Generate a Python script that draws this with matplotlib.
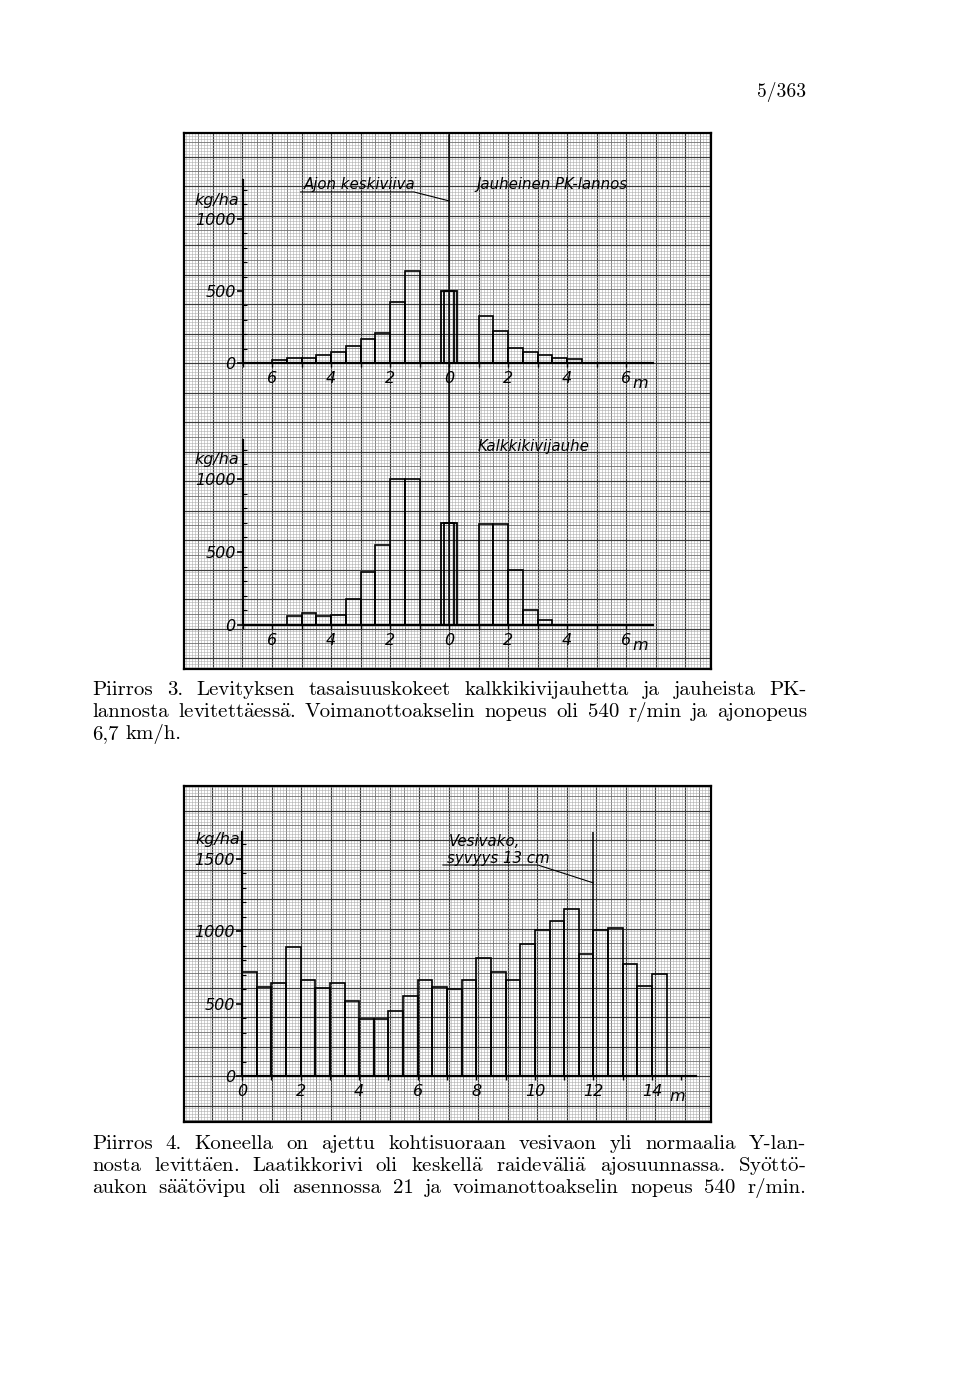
import matplotlib
matplotlib.use('Agg')
import matplotlib.pyplot as plt
import numpy as np

# --- data ---
# Piirros 3, upper: jauheinen PK-lannos, bins of 0.5 m (left edge, m from centre line)
pk_x = [-6.0, -5.5, -5.0, -4.5, -4.0, -3.5, -3.0, -2.5, -2.0, -1.5,
        1.0, 1.5, 2.0, 2.5, 3.0, 3.5, 4.0]
pk_kg = [23, 32, 36, 57, 73, 118, 164, 205, 420, 641,
         323, 223, 102, 77, 57, 36, 25]
pk_centre = 500

# Piirros 3, lower: kalkkikivijauhe
lime_x = [-5.5, -5.0, -4.5, -4.0, -3.5, -3.0, -2.5, -2.0, -1.5,
          1.0, 1.5, 2.0, 2.5, 3.0]
lime_kg = [59, 84, 59, 71, 180, 361, 550, 1000, 1000,
           694, 694, 379, 100, 37]
lime_centre = 700

# Piirros 4: Y-lannos across the water furrow
ylan_x = [0.0, 0.5, 1.0, 1.5, 2.0, 2.5, 3.0, 3.5, 4.0, 4.5, 5.0, 5.5, 6.0, 6.5,
          7.0, 7.5, 8.0, 8.5, 9.0, 9.5, 10.0, 10.5, 11.0, 11.5, 12.0, 12.5,
          13.0, 13.5, 14.0]
ylan_kg = [721, 612, 646, 893, 662, 605, 642, 516, 393, 393, 452, 555, 662, 612,
           600, 662, 813, 721, 662, 913, 1011, 1068, 1153, 840, 1007, 1023,
           772, 619, 708]

sym_ticks = [-6, -4, -2, 0, 2, 4, 6]
sym_labels = ['6', '4', '2', '0', '2', '4', '6']
ylan_ticks = [0, 2, 4, 6, 8, 10, 12, 14]

caption3 = ["Piirros 3. Levityksen tasaisuuskokeet kalkkikivijauhetta ja jauheista PK-",
            "lannosta levitettäessä. Voimanottoakselin nopeus oli 540 r/min ja ajonopeus",
            "6,7 km/h."]
caption4 = ["Piirros 4. Koneella on ajettu kohtisuoraan vesivaon yli normaalia Y-lan-",
            "nosta levittäen. Laatikkorivi oli keskellä raideväliä ajosuunnassa. Syöttö-",
            "aukon säätövipu oli asennossa 21 ja voimanottoakselin nopeus 540 r/min."]

W, H = 960, 1378
plt.rcParams['mathtext.fontset'] = 'cm'
fig = plt.figure(figsize=(W / 100, H / 100), dpi=100)
fig.patch.set_facecolor('white')

SERIF = ['cmr10', 'DejaVu Serif']
LAB = dict(family='DejaVu Sans', style='italic', size=11.5)
NOTE = dict(family='DejaVu Sans', style='italic', size=10.8)


def fx(px):
    return px / W


def fy(py):
    return 1 - py / H


def px_axes(left, top, right, bottom):
    return fig.add_axes([left / W, 1 - bottom / H, (right - left) / W, (bottom - top) / H])


def paper(left, top, right, bottom, x0, y0, cm=29.5):
    # graph paper sheet, drawn in page pixels
    ax = px_axes(left, top, right, bottom)
    ax.set_xlim(left, right)
    ax.set_ylim(bottom, top)
    ax.set_xticks([])
    ax.set_yticks([])
    mm = cm / 10
    for lo, hi, org, fn in [(left, right, x0, ax.vlines), (top, bottom, y0, ax.hlines)]:
        ks = np.arange(int(np.floor((lo - org) / mm)), int(np.ceil((hi - org) / mm)) + 1)
        pos = org + ks * mm
        a, b = (top, bottom) if fn == ax.vlines else (left, right)
        fn(pos[ks % 5 != 0], a, b, color='#adadad', lw=0.4)
        fn(pos[(ks % 5 == 0) & (ks % 10 != 0)], a, b, color='#707070', lw=0.6)
        fn(pos[ks % 10 == 0], a, b, color='#3a3a3a', lw=0.85)
    for s in ax.spines.values():
        s.set_linewidth(1.6)
    ax.set_zorder(0)
    return ax


def chart(left, right, x_lim, zero_py, top_py, y_top):
    ax = px_axes(left, top_py, right, zero_py)
    ax.set_facecolor('none')
    ax.set_zorder(2)
    ax.set_xlim(*x_lim)
    ax.set_ylim(0, y_top)
    for s in ('top', 'right'):
        ax.spines[s].set_visible(False)
    for s in ('left', 'bottom'):
        ax.spines[s].set_linewidth(1.6)
    ax.tick_params(axis='y', which='major', direction='out', length=4, width=1.2, pad=1)
    ax.tick_params(axis='y', which='minor', direction='in', length=3, width=0.8)
    ax.tick_params(axis='x', which='major', direction='out', length=3, width=1.0, pad=3)
    ax.tick_params(axis='x', which='minor', direction='out', length=3, width=1.0)
    ax.set_yticks(np.arange(0, y_top, 100), minor=True)
    return ax


def italic_ticks(ax):
    for t in ax.get_xticklabels() + ax.get_yticklabels():
        t.set_fontfamily(LAB['family'])
        t.set_fontstyle('italic')
        t.set_fontsize(LAB['size'])


# sheets of graph paper
paper(184, 133, 711, 669, 449, 363)
paper(184, 786, 711, 1122, 242, 1076)

# --- chart 1: PK-lannos ---
ax1 = chart(242.5, 652.6, (-7, 6.9), 363, 180, 1270)
ax1.bar(pk_x, pk_kg, width=0.5, align='edge', fill=False, edgecolor='black', lw=1.2)
ax1.bar(0, pk_centre, width=0.52, fill=False, edgecolor='black', lw=1.3)
ax1.bar(0, pk_centre, width=0.34, fill=False, edgecolor='black', lw=1.3)
ax1.axvline(0, 0, 1.246, color='black', lw=1.1, clip_on=False)
ax1.set_xticks(range(-7, 7), minor=True)
ax1.set_xticks(sym_ticks, sym_labels)
ax1.set_yticks([0, 500, 1000])
italic_ticks(ax1)
ax1.text(6.2, -140, 'm', ha='left', va='center', **LAB)
ax1.text(-7.1, 1095, 'kg/ha', ha='right', va='baseline', **LAB)
ax1.text(-4.92, 1205, 'Ajon keskiviiva', ha='left', va='baseline', **NOTE)
ax1.plot([-5.03, -1.19, 0], [1187, 1187, 1125], color='black', lw=0.8)
ax1.text(0.92, 1205, 'Jauheinen PK-lannos', ha='left', va='baseline', **NOTE)

# --- chart 2: kalkkikivijauhe ---
ax2 = chart(242.5, 652.6, (-7, 6.9), 625, 440, 1267)
ax2.bar(lime_x, lime_kg, width=0.5, align='edge', fill=False, edgecolor='black', lw=1.2)
ax2.bar(0, lime_centre, width=0.52, fill=False, edgecolor='black', lw=1.3)
ax2.bar(0, lime_centre, width=0.34, fill=False, edgecolor='black', lw=1.3)
ax2.axvline(0, 0, 1.416, color='black', lw=1.1, clip_on=False)
ax2.set_xticks(range(-7, 7), minor=True)
ax2.set_xticks(sym_ticks, sym_labels)
ax2.set_yticks([0, 500, 1000])
italic_ticks(ax2)
ax2.text(6.2, -140, 'm', ha='left', va='center', **LAB)
ax2.text(-7.1, 1105, 'kg/ha', ha='right', va='baseline', **LAB)
ax2.text(0.98, 1190, 'Kalkkikivijauhe', ha='left', va='baseline', **NOTE)

# --- chart 3: Y-lannos ---
ax3 = chart(242, 696, (0, 15.5), 1076, 832, 1686)
ax3.bar(ylan_x, ylan_kg, width=0.5, align='edge', fill=False, edgecolor='black', lw=1.2)
ax3.axvline(12, 0, 1, color='black', lw=1.1)
ax3.set_xticks(range(0, 16), minor=True)
ax3.set_xticks(ylan_ticks)
ax3.set_yticks([0, 500, 1000, 1500])
italic_ticks(ax3)
ax3.text(14.6, -140, 'm', ha='left', va='center', **LAB)
ax3.text(-0.05, 1605, 'kg/ha', ha='right', va='baseline', **LAB)
ax3.text(7.06, 1590, 'Vesivako,', ha='left', va='baseline', **NOTE)
ax3.text(7.0, 1475, 'syvyys 13 cm', ha='left', va='baseline', **NOTE)
ax3.plot([6.86, 10.1, 12.0], [1458, 1458, 1334], color='black', lw=0.8)

# --- captions (justified like the printed page) ---
renderer = fig.canvas.get_renderer()
CAP = 15


def pieces(word):
    # words with umlauts go through mathtext (cm font), a trailing hyphen stays plain
    tail = ''
    if word.endswith('-') and ('ä' in word or 'ö' in word):
        word, tail = word[:-1], '-'
    if 'ä' in word or 'ö' in word:
        w = word.replace('ä', r'\ddot{a}').replace('ö', r'\ddot{o}')
        out = ['$\\mathrm{' + w + '}$']
    else:
        out = [word]
    if tail:
        out.append(tail)
    return out


def set_line(line, x0, x1, base, justify=True, size=CAP):
    groups = []
    for word in line.split(' '):
        ts = [fig.text(0, fy(base), p, family=SERIF, size=size, ha='left', va='baseline')
              for p in pieces(word)]
        ws = [t.get_window_extent(renderer).width for t in ts]
        groups.append((ts, ws))
    total = sum(sum(ws) for _, ws in groups)
    if justify and len(groups) > 1:
        gap = (x1 - x0 - total) / (len(groups) - 1)
    else:
        gap = size * 100 / 72 * 0.34
    x = x0
    for ts, ws in groups:
        for t, w in zip(ts, ws):
            t.set_x(fx(x))
            x += w
        x += gap


for i, line in enumerate(caption3):
    set_line(line, 92, 807, 695 + 22 * i, justify=(i < 2))
for i, line in enumerate(caption4):
    set_line(line, 92, 806, 1149 + 22 * i, justify=True)

fig.text(fx(806), fy(97), '5/363', family=SERIF, size=14, ha='right', va='baseline')

fig.savefig('out.png', dpi=100, facecolor='white')
